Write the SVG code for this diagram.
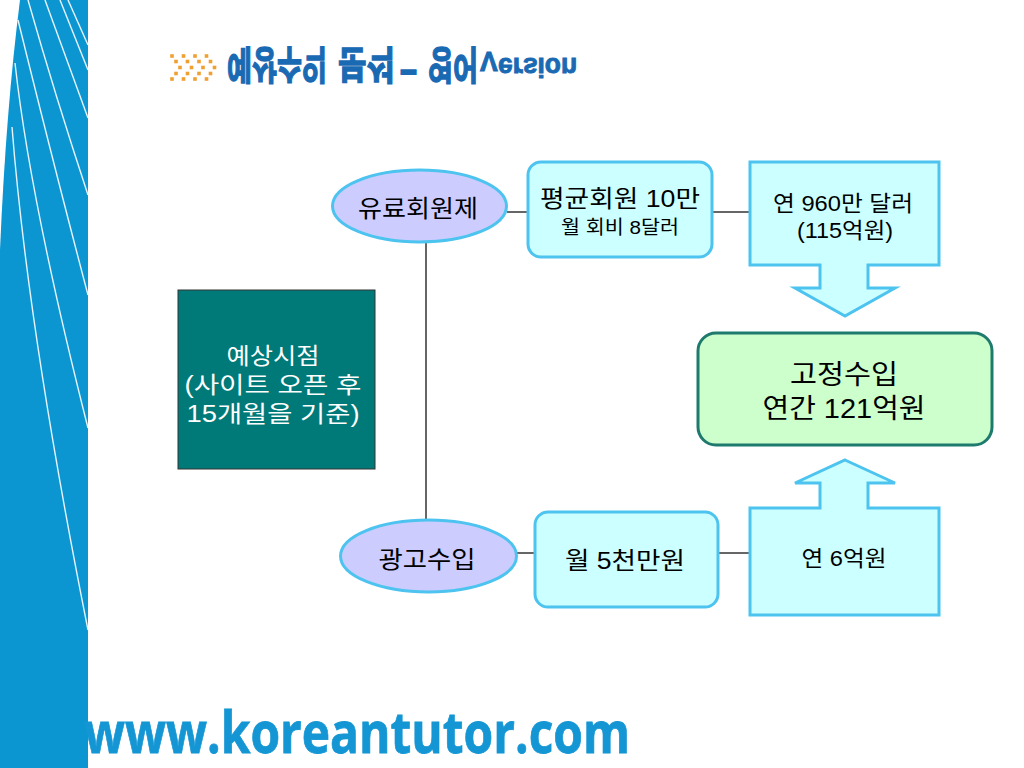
<svg xmlns="http://www.w3.org/2000/svg" width="1024" height="768" viewBox="0 0 1024 768">
  <defs>
    <style>
      .lbl { font-family: "Liberation Sans", "Noto Sans CJK KR", sans-serif; fill: #000; text-anchor: middle; }
      .wht { fill: #ffffff; }
      .oval { fill: #ccccff; stroke: #4dc3ef; stroke-width: 3; }
      .cyan { fill: #ccffff; stroke: #4dc3ef; stroke-width: 3; }
      .conn { stroke: #333; stroke-width: 1.5; fill: none; }
      .ray { stroke: #ffffff; stroke-width: 1.4; fill: none; opacity: 0.9; }
      .dot { fill: #f0a030; }
      .title { font-family: "Liberation Sans", "Noto Sans CJK KR", sans-serif; font-weight: bold; fill: #1a69b3; stroke: #1a69b3; stroke-width: 0.9; }
    </style>
    <g id="chev">
      <rect class="dot" x="-1.8" y="54.2" width="3.6" height="3.6"/>
      <rect class="dot" x="2.2" y="59.7" width="3.6" height="3.6"/>
      <rect class="dot" x="6.2" y="65.7" width="3.6" height="3.6"/>
      <rect class="dot" x="2.2" y="71.7" width="3.6" height="3.6"/>
      <rect class="dot" x="-1.8" y="77.2" width="3.6" height="3.6"/>
    </g>
  </defs>

  <rect width="1024" height="768" fill="#ffffff"/>

  <!-- left blue strip -->
  <g id="strip">
    <path d="M20,0 L88,0 L88,768 L0,768 L0,250 Q6,110 20,0 Z" fill="#0b96d2"/>
    <line class="ray" x1="68" y1="0" x2="88" y2="45"/>
    <line class="ray" x1="60" y1="0" x2="88" y2="70"/>
    <line class="ray" x1="45" y1="0" x2="88" y2="118"/>
    <path class="ray" d="M28,0 Q55,95 88,195"/>
    <path class="ray" d="M18,20 Q55,170 88,295"/>
    <path class="ray" d="M15,63 Q30,200 88,428"/>
    <path class="ray" d="M12,127 Q28,330 88,630"/>
  </g>

  <!-- title -->
  <g id="title">
    <use href="#chev" x="172"/>
    <use href="#chev" x="183.5"/>
    <use href="#chev" x="195"/>
    <use href="#chev" x="206.5"/>
    <text class="title" font-size="25.5" transform="translate(227,50.7) scale(1,-1.53)" textLength="100" lengthAdjust="spacingAndGlyphs">예상수익</text>
    <text class="title" font-size="25.5" transform="translate(338,50.7) scale(1,-1.53)" textLength="57" lengthAdjust="spacingAndGlyphs">분석</text>
    <text class="title" font-size="30" transform="translate(400,59.5) scale(1,-1.5)" textLength="17" lengthAdjust="spacingAndGlyphs">–</text>
    <text class="title" font-size="25.5" transform="translate(428,50.7) scale(1,-1.53)" textLength="50" lengthAdjust="spacingAndGlyphs">영어</text>
    <text class="title" font-size="26.5" transform="translate(480,52) scale(1,-1.05)">V</text>
    <text class="title" font-size="26.5" transform="translate(498,58) scale(1,-1.05)" textLength="79" lengthAdjust="spacingAndGlyphs">ersion</text>
  </g>

  <!-- connectors -->
  <g id="connectors">
    <line class="conn" x1="426" y1="242" x2="426" y2="521"/>
    <line class="conn" x1="507" y1="212" x2="528" y2="212"/>
    <line class="conn" x1="712" y1="212" x2="750" y2="212"/>
    <line class="conn" x1="517" y1="553" x2="535" y2="553"/>
    <line class="conn" x1="718" y1="553" x2="750" y2="553"/>
  </g>

  <g id="node-forecast">
    <rect x="178" y="290" width="197" height="179" fill="#007a78" stroke="#333" stroke-width="1"/>
    <text class="lbl wht" font-size="23" x="273" y="364" textLength="93" lengthAdjust="spacingAndGlyphs">예상시점</text>
    <text class="lbl wht" font-size="23" x="273" y="393" textLength="177" lengthAdjust="spacingAndGlyphs">(사이트 오픈 후</text>
    <text class="lbl wht" font-size="23" x="273" y="422" textLength="173" lengthAdjust="spacingAndGlyphs">15개월을 기준)</text>
  </g>

  <g id="node-membership">
    <ellipse class="oval" cx="419.5" cy="206" rx="87" ry="36"/>
    <text class="lbl" font-size="24" x="418" y="216.5" textLength="120" lengthAdjust="spacingAndGlyphs">유료회원제</text>
  </g>

  <g id="node-members">
    <rect class="cyan" x="528" y="162" width="184" height="95" rx="13"/>
    <text class="lbl" font-size="24" x="620" y="207" textLength="160" lengthAdjust="spacingAndGlyphs">평균회원 10만</text>
    <text class="lbl" font-size="19" x="620" y="233.5" textLength="118" lengthAdjust="spacingAndGlyphs">월 회비 8달러</text>
  </g>

  <g id="node-annual-members">
    <path class="cyan" d="M750,162 H939 V265 H868 V288 H895 L845,316 L795,288 H820 V265 H750 Z"/>
    <text class="lbl" font-size="22" x="843" y="211" textLength="140" lengthAdjust="spacingAndGlyphs">연 960만 달러</text>
    <text class="lbl" font-size="22" x="845" y="238" textLength="96" lengthAdjust="spacingAndGlyphs">(115억원)</text>
  </g>

  <g id="node-fixed-income">
    <rect x="698" y="333" width="294" height="112" rx="18" fill="#ccffcc" stroke="#1f7a6e" stroke-width="3"/>
    <text class="lbl" font-size="27" x="844" y="384" textLength="108" lengthAdjust="spacingAndGlyphs">고정수입</text>
    <text class="lbl" font-size="27" x="844" y="418" textLength="163" lengthAdjust="spacingAndGlyphs">연간 121억원</text>
  </g>

  <g id="node-ads">
    <ellipse class="oval" cx="428.5" cy="556" rx="88" ry="36"/>
    <text class="lbl" font-size="24" x="427" y="567.5" textLength="97" lengthAdjust="spacingAndGlyphs">광고수입</text>
  </g>

  <g id="node-monthly-ads">
    <rect class="cyan" x="535" y="512" width="183" height="95" rx="13"/>
    <text class="lbl" font-size="24" x="625" y="569" textLength="120" lengthAdjust="spacingAndGlyphs">월 5천만원</text>
  </g>

  <g id="node-annual-ads">
    <path class="cyan" d="M845,460 L895,483 H868 V508 H939 V615 H750 V508 H820 V483 H795 Z"/>
    <text class="lbl" font-size="22" x="844" y="566" textLength="85" lengthAdjust="spacingAndGlyphs">연 6억원</text>
  </g>

  <g id="footer">
    <text x="84" y="753" font-family="'Open Sans', 'Liberation Sans', sans-serif" font-weight="bold" font-size="58" fill="#1596d4" stroke="#1596d4" stroke-width="0.8" textLength="546" lengthAdjust="spacingAndGlyphs">www.koreantutor.com</text>
  </g>
</svg>
